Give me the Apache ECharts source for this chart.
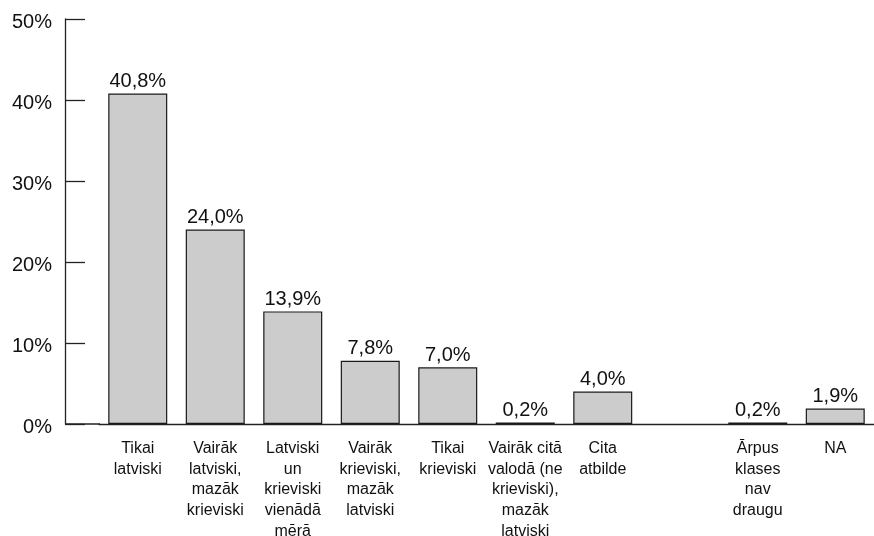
<!DOCTYPE html>
<html><head><meta charset="utf-8">
<script src="https://cdn.jsdelivr.net/npm/echarts@6/dist/echarts.min.js"></script>
<style>html,body{margin:0;padding:0;background:#fff;overflow:hidden}#c{width:874px;height:536px}</style>
</head><body><div id="c"></div>
<script>
const categories = ['Tikai\nlatviski','Vairāk\nlatviski,\nmazāk\nkrieviski','Latviski\nun\nkrieviski\nvienādā\nmērā','Vairāk\nkrieviski,\nmazāk\nlatviski','Tikai\nkrieviski','Vairāk citā\nvalodā (ne\nkrieviski),\nmazāk\nlatviski','Cita\natbilde','','Ārpus\nklases\nnav\ndraugu','NA'];
const values = [40.8, 24.0, 13.9, 7.8, 7.0, 0.2, 4.0, '-', 0.2, 1.9];
const yTicks = [0, 10, 20, 30, 40, 50];
const fmt = v => v.toFixed(1).replace('.', ',') + '%';
const font = 'Liberation Sans, Arial, sans-serif';
const chart = echarts.init(document.getElementById('c'), null, {renderer:'canvas', width:874, height:536});
chart.setOption({
  animation:false,
  backgroundColor:'#fff',
  grid:{left:99, width:775, top:19, height:405, containLabel:false, outerBoundsMode:'none'},
  xAxis:{type:'category', data:categories,
    axisLine:{lineStyle:{color:'#222', width:1.3}},
    axisTick:{show:false},
    axisLabel:{interval:0, color:'#111', fontFamily:font, fontSize:16, lineHeight:20.8, margin:14}},
  yAxis:{type:'value', min:yTicks[0], max:yTicks[yTicks.length-1], interval:10, offset:34,
    axisLine:{show:true, lineStyle:{color:'#222', width:1.3}},
    axisTick:{show:true, inside:true, length:20, lineStyle:{color:'#222', width:1.3}},
    splitLine:{show:false},
    axisLabel:{color:'#111', fontFamily:font, fontSize:20, margin:13,
      formatter:v=>'{a|' + v + '%}',
      rich:{a:{color:'#111', fontFamily:font, fontSize:20, padding:[7,0,0,0]}}}},
  series:[{type:'bar', data:values, barWidth:59,
    itemStyle:{color:'#cccccc', borderColor:'#1a1a1a', borderWidth:1.2},
    label:{show:true, position:'top', distance:2, color:'#111', fontFamily:font, fontSize:20,
      formatter:p=>fmt(p.value)}}]
});
// extend x axis baseline to the offset y axis
const p0 = chart.convertToPixel({yAxisIndex:0}, 0);
chart.setOption({graphic:[{type:'line', shape:{x1:65, y1:p0, x2:100, y2:p0}, style:{stroke:'#222', lineWidth:1.3}}]});
</script></body></html>
